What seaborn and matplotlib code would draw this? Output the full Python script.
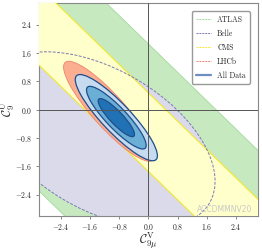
import numpy as np
import matplotlib
matplotlib.use("Agg")
import matplotlib.pyplot as plt
from matplotlib.patches import Ellipse
from matplotlib.lines import Line2D
import seaborn as sns

# bands, given as bounds on C9muV + C9U
atlas_sum = [-5.3, 1.85]
cms_sum = [-1.75, 0.47]

# Belle contour (ellipse): center, semi axes, angle
belle_center = [-1.32, -0.85]
belle_axes = [3.49, 1.97]
belle_angle = 148.5

# LHCb contour
lhcb_center = [-1.08, -0.05]
lhcb_axes = [1.83, 0.45]
lhcb_angle = -49

# All data, 3/2/1 sigma
all_center = [-0.88, -0.23]
all_major = [1.61, 1.17, 0.71]
all_minor = [0.40, 0.29, 0.18]
all_angle = -47.5

ticks = [-2.4, -1.6, -0.8, 0.0, 0.8, 1.6, 2.4]
labels = ["ATLAS", "Belle", "CMS", "LHCb", "All Data"]

sns.set_theme(style="ticks")
plt.rcParams["font.family"] = "serif"
plt.rcParams["font.serif"] = ["cmr10"]
plt.rcParams["mathtext.fontset"] = "cm"
plt.rcParams["axes.formatter.use_mathtext"] = True

fig = plt.figure(figsize=(2.62, 2.5), dpi=100)
ax = fig.add_axes([0.149, 0.137, 0.835, 0.85])

xx = np.array([-4, 4])
ax.fill_between(xx, atlas_sum[0] - xx, atlas_sum[1] - xx, color="#c7e9c0", lw=0, zorder=1)
for s in atlas_sum:
    ax.plot(xx, s - xx, color="#a1d99b", lw=0.6, zorder=1.1)

ax.add_patch(Ellipse(belle_center, 2*belle_axes[0], 2*belle_axes[1], angle=belle_angle,
                     facecolor="#dadaeb", edgecolor="none", zorder=2))

ax.fill_between(xx, cms_sum[0] - xx, cms_sum[1] - xx, color="#ffffcc", lw=0, zorder=3)
for s in cms_sum:
    ax.plot(xx, s - xx, color="#f2e830", lw=0.8, zorder=3.1)

ax.add_patch(Ellipse(belle_center, 2*belle_axes[0], 2*belle_axes[1], angle=belle_angle,
                     facecolor="none", edgecolor="#7b78b0", lw=0.7, ls=(0, (3, 1.5)), zorder=3.5))

ax.add_patch(Ellipse(lhcb_center, 2*lhcb_axes[0], 2*lhcb_axes[1], angle=lhcb_angle,
                     facecolor="#fcae91", edgecolor="#f08070", lw=0.6, zorder=4))

blues = ["#c6dbef", "#6baed6", "#2171b5"]
for i in range(3):
    ax.add_patch(Ellipse(all_center, 2*all_major[i], 2*all_minor[i], angle=all_angle,
                         facecolor=blues[i], edgecolor="#1f4e8c", lw=0.9, zorder=5 + i))

ax.axhline(0, color="#555555", lw=0.7, zorder=9)
ax.axvline(0, color="#555555", lw=0.7, zorder=9)

ax.text(2.86, -2.82, "ACCDMMNV20", ha="right", va="center", color="#c8c8c8",
        fontsize=5.5, family="DejaVu Sans", zorder=10)

ax.set_xlim(-3, 3)
ax.set_ylim(-3, 3)
ax.set_xticks(ticks)
ax.set_yticks(ticks)
ax.tick_params(labelsize=5.5, length=2.5, width=0.6, color="#777777", pad=2)
for sp in ax.spines.values():
    sp.set_color("#888888")
    sp.set_linewidth(0.8)
ax.set_xlabel(r"$\mathcal{C}_{9\mu}^{\rm V}$", fontsize=9, labelpad=-1)
ax.set_ylabel(r"$\mathcal{C}_{9}^{\rm U}$", fontsize=9)
ax.yaxis.set_label_coords(-0.1, 0.5)

colors = ["#a1d99b", "#7b78b0", "#f2e830", "#f08070", "#6a8fc0"]
handles = [Line2D([], [], color=colors[i], ls="--", lw=0.7, dashes=(2, 1), label=labels[i])
           for i in range(4)]
handles.append(Line2D([], [], color=colors[4], ls="-", lw=1.6, label=labels[4]))
leg = ax.legend(handles=handles, loc="upper right", fontsize=5.5, frameon=True,
                fancybox=True, framealpha=1, edgecolor="#999999",
                labelspacing=0.75, handlelength=2.0, borderpad=0.5,
                bbox_to_anchor=(0.98, 0.98))
leg.set_zorder(20)

fig.savefig("out.png", dpi=100)
